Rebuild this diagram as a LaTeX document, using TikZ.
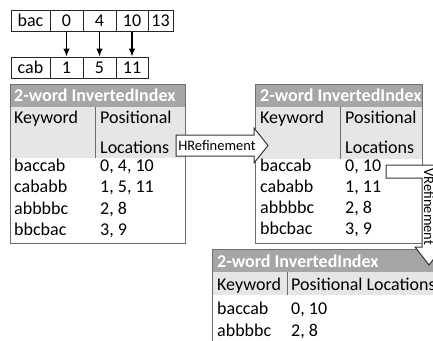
\documentclass[tikz,border=0pt]{standalone}
\usepackage{fontspec}
\setmainfont{Carlito}
\usetikzlibrary{arrows.meta}
\definecolor{hdr}{RGB}{166,166,166}
\definecolor{colhdr}{RGB}{231,230,230}
\definecolor{rule}{RGB}{110,110,110}
\tikzstyle{cell} = [draw=black!85, line width=1pt, minimum height=21pt, inner sep=0pt, font=\fontsize{18}{21}\selectfont]
\tikzstyle{txt} = [anchor=base west, inner sep=0pt, font=\fontsize{18}{21}\selectfont]
\tikzstyle{hdrtxt} = [txt, text=white, font=\fontsize{18}{21}\selectfont\bfseries]
\tikzstyle{refine} = [draw=black!80, fill=white, line width=1pt]
\tikzstyle{reftxt} = [inner sep=0pt, font=\fontsize{14.5}{17}\selectfont]

\begin{document}
\begin{tikzpicture}[x=1pt, y=-1pt]
\useasboundingbox (0,0) rectangle (433,340);
\clip (0,0) rectangle (433,340);

% the two strings with their positions
\node[cell, minimum width=39pt] (bac) at (30.5,20.5) {bac};
\node[cell, minimum width=33pt] (b0) at (66.5,20.5) {0};
\node[cell, minimum width=33pt] (b4) at (99.5,20.5) {4};
\node[cell, minimum width=32pt] (b10) at (132,20.5) {10};
\node[cell, minimum width=25pt] (b13) at (160.5,20.5) {13};
\node[cell, minimum width=39pt] (cab) at (30.5,67.5) {cab};
\node[cell, minimum width=33pt] (c1) at (66.5,67.5) {1};
\node[cell, minimum width=33pt] (c5) at (99.5,67.5) {5};
\node[cell, minimum width=32pt] (c11) at (132,67.5) {11};
\foreach \a/\b in {b0/c1, b4/c5, b10/c11}
  \draw[-{Latex[length=8pt,width=6.5pt]}, line width=1.1pt] (\a) -- (\b);

% first index
\fill[hdr] (10,84) rectangle (185,107);
\fill[colhdr] (10,107) rectangle (185,158);
\draw[rule] (95,107) -- (95,158);
\draw[rule, line width=1pt] (10,84) rectangle (185,243);
\node[hdrtxt] (ha) at (14,101) {2-word InvertedIndex};
\node[txt] (kwa) at (14,123) {Keyword};
\node[txt] (pla) at (100,123) {Positional};
\node[txt] (lca) at (100,153) {Locations};
\foreach \k/\p [count=\i] in {baccab/{0, 4, 10}, cababb/{1, 5, 11}, abbbbc/{2, 8}, bbcbac/{3, 9}} {
  \node[txt] (ka\i) at (14,{171.5+21.3*(\i-1)}) {\k};
  \node[txt] (pa\i) at (100,{171.5+21.3*(\i-1)}) {\p};
}

% after HRefinement
\fill[hdr] (255,84) rectangle (422,107);
\fill[colhdr] (255,107) rectangle (422,159);
\draw[rule] (340,107) -- (340,159);
\draw[rule, line width=1pt] (255,84) rectangle (422,243);
\node[hdrtxt] (hb) at (260,101) {2-word InvertedIndex};
\node[txt] (kwb) at (260,123) {Keyword};
\node[txt] (plb) at (345,123) {Positional};
\node[txt] (lcb) at (345,153) {Locations};
\foreach \k/\p [count=\i] in {baccab/{0, 10}, cababb/{1, 11}, abbbbc/{2, 8}, bbcbac/{3, 9}} {
  \node[txt] (kb\i) at (260,{171+21.3*(\i-1)}) {\k};
  \node[txt] (pb\i) at (345,{171+21.3*(\i-1)}) {\p};
}

% after VRefinement
\fill[hdr] (212,249) rectangle (445,272);
\fill[colhdr] (212,272) rectangle (445,295);
\draw[rule] (287,272) -- (287,295);
\draw[rule, line width=1pt] (212,249) rectangle (445,360);
\node[hdrtxt] (hc) at (217,267) {2-word InvertedIndex};
\node[txt] (kwc) at (217,290) {Keyword};
\node[txt] (plc) at (291,290) {Positional Locations};
\foreach \k/\p [count=\i] in {baccab/{0, 10}, abbbbc/{2, 8}} {
  \node[txt] (kc\i) at (217,{314+22*(\i-1)}) {\k};
  \node[txt] (pc\i) at (291,{314+22*(\i-1)}) {\p};
}

% refinement arrows
\draw[refine] (176,135) -- (254,135) -- (254,128) -- (268,145.5) -- (254,163)
  -- (254,156) -- (176,156) -- cycle;
\node[reftxt] (hr) at (217,145.5) {HRefinement};
\draw[refine] (386,165) -- (436,165) -- (436,247) -- (443,247) -- (429,265)
  -- (415,247) -- (422,247) -- (422,178) -- (386,178) -- cycle;
\node[reftxt, rotate=-90] (vr) at (429,207) {VRefinement};
\end{tikzpicture}
\end{document}
